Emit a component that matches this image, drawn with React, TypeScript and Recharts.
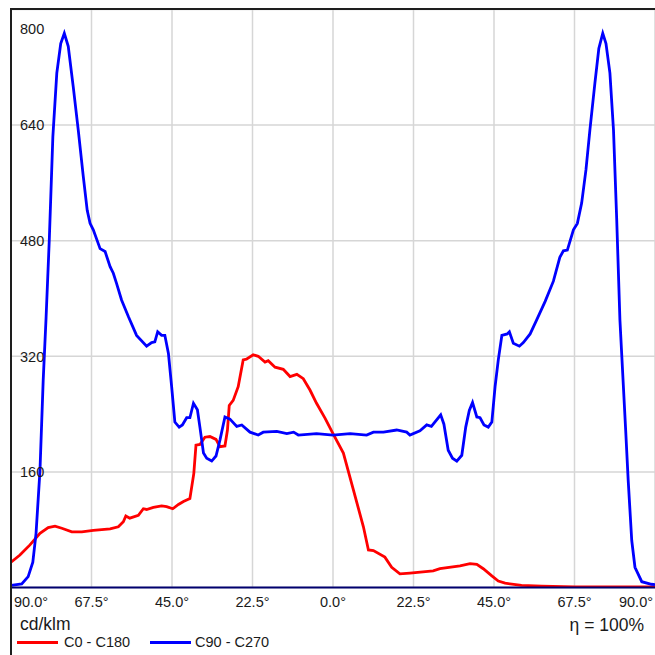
import React from "react";
import { LineChart, Line, XAxis, YAxis, CartesianGrid } from "recharts";

// C0 - C180 (red)
const redAngles = [
  -90, -87.5, -84.7, -81.9, -79.6, -77.7, -75.8, -73, -70.2, -67, -62.3, -60, -58.6, -57.9, -56.8,
  -54.4, -53, -52.1, -50.2, -47.9, -46.5, -44.8, -43.2, -41.8, -40, -38.9, -38.3, -37.2, -35.8,
  -34.4, -32.7, -31.6, -30.2, -29.5, -29, -27.9, -26.5, -25.1, -24.2, -22.3, -20.9, -19, -18.1,
  -16.2, -13.9, -12, -10.1, -8.3, -6.4, -4.6, -2.2, 0, 2.9, 5.7, 8.5, 9.9, 11.3, 14.5, 16.4, 18.7,
  21.5, 28, 29.9, 35.5, 38.3, 40.2, 42, 44.4, 46.2, 48.1, 52.7, 58.3, 67.6, 90,
];
const redValues = [
  35, 45, 59, 75, 83, 85, 82, 77, 77, 79, 81, 84, 91, 99, 96,
  100, 109, 108, 111, 113, 112, 109, 115, 119, 123, 158, 197, 198, 208,
  209, 205, 195, 196, 218, 252, 259, 278, 315, 316, 322, 320, 312, 314,
  305, 302, 292, 295, 289, 273, 255, 234, 213, 186, 135, 84, 52, 51, 42, 28, 19,
  20, 23, 26, 30, 33, 32, 26, 16, 9, 6, 3, 2, 1, 1,
];

// C90 - C270 (blue)
const blueAngles = [
  -90, -87, -85.2, -83.9, -83, -81.9, -81, -80.2, -79.3, -78.3, -77.2, -76.1, -75.1, -74, -72.6,
  -71.2, -69.8, -68.7, -67.9, -67, -65.1, -63.7, -62.3, -61.4, -60.5, -59.1, -57.2, -54.9, -52.1,
  -50.7, -49.8, -49, -47.9, -47, -46, -45.1, -44.2, -43, -42.1, -40.9, -40, -39, -37.9, -37.2,
  -36.2, -35.3, -33.9, -32.7, -31.6, -30.2, -28.8, -26.9, -25.5, -23.2, -20.9, -19.5, -15.7,
  -12.9, -11, -9.7, -4.6, 0, 4.8, 9.4, 11.3, 14.1, 17.8, 20.6, 21.5, 24.3, 26.2, 27.5, 30.1, 31,
  32.2, 33.4, 34.6, 36, 37.1, 38.1, 39, 40.2, 41.1, 42.2, 43.4, 44.4, 45.3, 46.2, 47.2, 48.7,
  49.3, 50.4, 52.1, 53.2, 55.1, 56.9, 59.3, 61.6, 63.4, 64.4, 65.5, 67.2, 68.3, 69.5, 70.7, 71.8,
  73.2, 74.3, 75.4, 76.3, 77.4, 78.4, 79.3, 80.2, 81.8, 82.5, 83.5, 84.4, 86.3, 89, 90,
];
const blueValues = [
  3, 5, 15, 35, 75, 162, 287, 373, 481, 624, 712, 753, 767, 749, 693,
  633, 569, 522, 504, 495, 469, 465, 444, 435, 421, 398, 375, 349, 334,
  339, 340, 354, 349, 349, 324, 278, 229, 222, 225, 235, 235, 255, 246, 222,
  186, 179, 175, 182, 204, 236, 233, 223, 225, 215, 211, 215, 216,
  213, 215, 211, 213, 211, 213, 211, 215, 215, 218, 215, 211, 217, 225, 223, 239, 226,
  190, 179, 175, 183, 222, 245, 256, 236, 235, 225, 222, 229, 278, 315, 349, 351,
  354, 338, 334, 339, 351, 370, 396, 424, 457, 466, 467, 495, 504, 532, 578, 633,
  698, 746, 767, 753, 712, 633, 509, 370, 218, 149, 65, 28, 8, 4.5, 4,
];

const xTicks = [-90, -67.5, -45, -22.5, 0, 22.5, 45, 67.5, 90];
const yTicks = [160, 320, 480, 640, 800];
const seriesNames = ["C0 - C180", "C90 - C270"];
const unitLabel = "cd/klm";
const efficiencyLabel = "η = 100%";

const redData = redAngles.map((a, i) => ({ a, v: redValues[i] }));
const blueData = blueAngles.map((a, i) => ({ a, v: blueValues[i] }));

const FONT = '"Liberation Sans", Arial, sans-serif';

const XTick = (props: any) => {
  const { x, y, payload } = props;
  const v = payload.value;
  let shift = 0;
  if (v === -90) shift = 20;
  if (v === 90) shift = -19;
  return (
    <text
      x={x + shift}
      y={y + 1}
      dy="0.71em"
      textAnchor="middle"
      fontSize={14.5}
      fontFamily={FONT}
      fill="#1a1a1a"
    >
      {Math.abs(v).toFixed(1) + "°"}
    </text>
  );
};

const YTick = (props: any) => {
  const { y, payload } = props;
  const v = payload.value;
  const yy = v === 800 ? y + 19.5 : y;
  return (
    <text x={20} y={yy} dy="0.36em" textAnchor="start" fontSize={14.5} fontFamily={FONT} fill="#1a1a1a">
      {String(v)}
    </text>
  );
};

export default function App() {
  return (
    <div
      style={{
        position: "absolute",
        left: 0,
        top: 0,
        width: 655,
        height: 655,
        overflow: "hidden",
        background: "#fff",
        fontFamily: FONT,
      }}
    >
      <LineChart width={655} height={655} margin={{ top: 9.5, right: 0, left: 0, bottom: 37.5 }}>
        <CartesianGrid stroke="#d6d6d6" strokeWidth={1.5} />
        <XAxis
          type="number"
          dataKey="a"
          domain={[-90, 90]}
          ticks={xTicks}
          interval={0}
          height={30}
          allowDataOverflow
          axisLine={{ stroke: "#00006e", strokeWidth: 2 }}
          tickLine={false}
          tick={<XTick />}
        />
        <YAxis
          type="number"
          domain={[0, 800]}
          ticks={yTicks}
          interval={0}
          width={11}
          allowDataOverflow
          axisLine={false}
          tickLine={false}
          tick={<YTick />}
        />
        <Line
          data={redData}
          dataKey="v"
          type="linear"
          stroke="#ff0000"
          strokeWidth={2.8}
          dot={false}
          activeDot={false}
          isAnimationActive={false}
        />
        <Line
          data={blueData}
          dataKey="v"
          type="linear"
          stroke="#0000ff"
          strokeWidth={2.8}
          dot={false}
          activeDot={false}
          isAnimationActive={false}
        />
      </LineChart>

      <div
        style={{
          position: "absolute",
          left: 10,
          top: 8,
          width: 700,
          height: 700,
          borderLeft: "2px solid #1e1e1e",
          borderTop: "2px solid #1e1e1e",
          pointerEvents: "none",
        }}
      />

      <div style={{ position: "absolute", left: 20, top: 614, fontSize: 17.5, lineHeight: "20px", color: "#1a1a1a" }}>
        {unitLabel}
      </div>
      <div style={{ position: "absolute", right: 11, top: 615, fontSize: 17.5, lineHeight: "20px", color: "#1a1a1a" }}>
        {efficiencyLabel}
      </div>

      <div style={{ position: "absolute", left: 17, top: 641, width: 41, height: 3, background: "#ff0000" }} />
      <div style={{ position: "absolute", left: 64, top: 634, fontSize: 14.5, lineHeight: "17px", color: "#1a1a1a" }}>
        {seriesNames[0]}
      </div>
      <div style={{ position: "absolute", left: 150, top: 641, width: 41, height: 3, background: "#0000ff" }} />
      <div style={{ position: "absolute", left: 195, top: 634, fontSize: 14.5, lineHeight: "17px", color: "#1a1a1a" }}>
        {seriesNames[1]}
      </div>
    </div>
  );
}
